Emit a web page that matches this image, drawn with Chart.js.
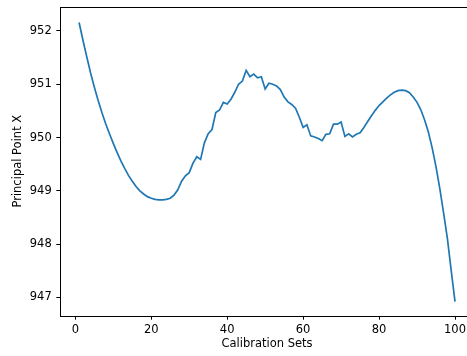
<!DOCTYPE html>
<html>
<head>
<meta charset="utf-8">
<script src="https://cdn.jsdelivr.net/npm/chart.js@4/dist/chart.umd.min.js"></script>
<style>
  html, body { margin: 0; padding: 0; background: #fff; overflow: hidden; }
  #wrap { width: 480px; height: 356px; position: relative; }
</style>
</head>
<body>
<div id="wrap"><canvas id="c"></canvas></div>
<script>
// Calibration set index (1..100)
const calibrationSets = Array.from({ length: 100 }, (_, i) => i + 1);

// Estimated principal point (x component, pixels) per calibration set
const principalPointX = [
  952.16, 951.83, 951.52, 951.22, 950.95, 950.70, 950.47, 950.26, 950.07, 949.89,
  949.72, 949.56, 949.42, 949.29, 949.18, 949.08, 949.00, 948.94, 948.89, 948.86,
  948.84, 948.83, 948.83, 948.84, 948.86, 948.92, 949.02, 949.18, 949.28, 949.34,
  949.52, 949.64, 949.59, 949.90, 950.07, 950.15, 950.47, 950.52, 950.66, 950.63,
  950.72, 950.85, 951.00, 951.06, 951.26, 951.14, 951.19, 951.12, 951.14, 950.91,
  951.02, 951.00, 950.97, 950.90, 950.76, 950.67, 950.62, 950.55, 950.38, 950.19,
  950.24, 950.03, 950.01, 949.98, 949.94, 950.06, 950.07, 950.25, 950.25, 950.29,
  950.02, 950.07, 950.01, 950.06, 950.09, 950.19, 950.30, 950.41, 950.51, 950.60,
  950.67, 950.74, 950.80, 950.85, 950.88, 950.89, 950.88, 950.84, 950.76, 950.66,
  950.52, 950.33, 950.10, 949.80, 949.45, 949.04, 948.58, 948.10, 947.50, 946.92
];

// Axis tick values
const xTicks = [0, 20, 40, 60, 80, 100];
const yTicks = [947, 948, 949, 950, 951, 952];

const FONT = 'DejaVu Sans';
const FONT_SIZE = 11.5;

// Full rectangular frame around the plotting area
const framePlugin = {
  id: 'frame',
  afterDraw(chart) {
    const { ctx, chartArea: a } = chart;
    ctx.save();
    ctx.strokeStyle = '#000';
    ctx.lineWidth = 1;
    ctx.strokeRect(Math.round(a.left) + 0.5, Math.round(a.top) + 0.5,
                   Math.round(a.right - a.left), Math.round(a.bottom - a.top));
    ctx.restore();
  }
};

new Chart(document.getElementById('c'), {
  type: 'line',
  data: {
    datasets: [{
      data: calibrationSets.map((x, i) => ({ x, y: principalPointX[i] })),
      borderColor: '#1f77b4',
      borderWidth: 1.7,
      pointRadius: 0,
      tension: 0,
      fill: false
    }]
  },
  options: {
    responsive: true,
    maintainAspectRatio: false,
    animation: false,
    events: [],
    layout: { padding: { top: 6.7, right: 6.2, left: 0, bottom: 0 } },
    plugins: { legend: { display: false }, tooltip: { enabled: false } },
    scales: {
      x: {
        type: 'linear',
        min: -3.95,
        max: 104.95,
        afterBuildTicks(scale) { scale.ticks = xTicks.map(v => ({ value: v })); },
        afterFit(scale) {
          scale.height = 40.3;
          scale.paddingLeft = 0; scale.paddingRight = 0;
        },
        border: { display: false },
        grid: { display: true, drawOnChartArea: false, drawTicks: true, tickLength: 4, color: '#000', tickWidth: 1 },
        ticks: { color: '#000', font: { family: FONT, size: FONT_SIZE }, padding: 3, maxRotation: 0, autoSkip: false },
        title: { display: true, text: 'Calibration Sets', color: '#000', font: { family: FONT, size: FONT_SIZE }, padding: { top: 0, bottom: 5.1 } }
      },
      y: {
        type: 'linear',
        min: 946.655,
        max: 952.456,
        afterBuildTicks(scale) { scale.ticks = yTicks.map(v => ({ value: v })); },
        afterFit(scale) {
          scale.width = 60.3;
          scale.paddingTop = 0; scale.paddingBottom = 0;
        },
        border: { display: false },
        grid: { display: true, drawOnChartArea: false, drawTicks: true, tickLength: 4, color: '#000', tickWidth: 1 },
        ticks: { color: '#000', font: { family: FONT, size: FONT_SIZE }, padding: 4.6, autoSkip: false },
        title: { display: true, text: 'Principal Point X', color: '#000', font: { family: FONT, size: FONT_SIZE }, padding: { top: 11.6, bottom: 0 } }
      }
    }
  },
  plugins: [framePlugin]
});
</script>
</body>
</html>
